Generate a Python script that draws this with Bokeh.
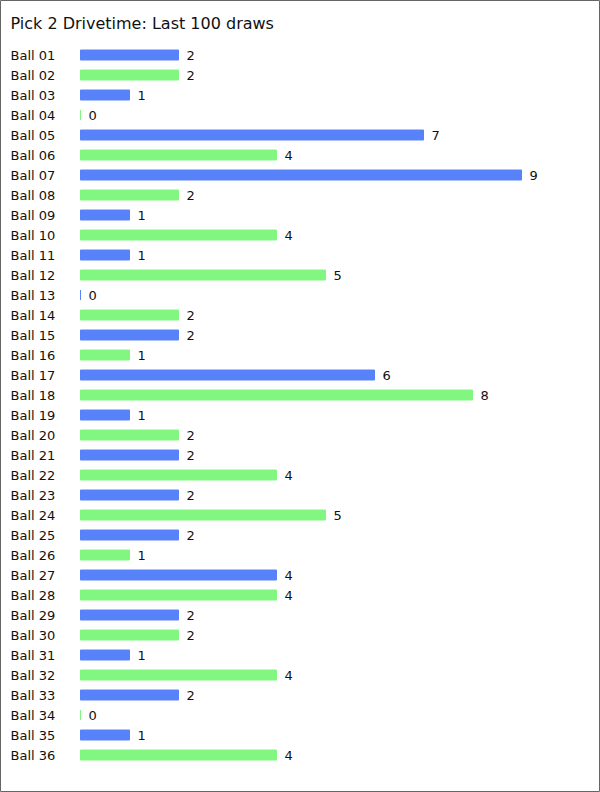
from bokeh.plotting import figure
from bokeh.models import ColumnDataSource, Range1d, Label
from bokeh.embed import file_html
from bokeh.resources import INLINE
from bokeh.core.properties import value

title_text = "Pick 2 Drivetime: Last 100 draws"
balls = ["Ball %02d" % i for i in range(1, 37)]
counts = [2, 2, 1, 0, 7, 4, 9, 2, 1, 4, 1, 5, 0, 2, 2, 1, 6, 8,
          1, 2, 2, 4, 2, 5, 2, 1, 4, 4, 2, 2, 1, 4, 2, 0, 1, 4]
palette = ["#5882FA", "#81F781"]

W, H = 600, 792
unit = 49.0      # px per count
x0 = 80.0        # px of zero
row = 20.0       # px per row
y0 = 54.5        # px of first row centre

idx = list(range(len(balls)))
src = ColumnDataSource(dict(
    y=idx,
    ball=balls,
    count=counts,
    label=[str(c) for c in counts],
    color=[palette[i % 2] for i in idx],
    lx=[-70.0 / unit] * len(idx),
))

p = figure(width=W, height=H, output_backend="svg", toolbar_location=None,
           x_range=Range1d(-x0 / unit, (W - x0) / unit),
           y_range=Range1d(-y0 / row + H / row, -y0 / row),
           min_border=0, min_border_left=0, min_border_right=0,
           min_border_top=0, min_border_bottom=0)
p.axis.visible = False
p.grid.visible = False
p.outline_line_color = "#666666"
p.outline_line_width = 1
p.background_fill_color = "white"
p.border_fill_color = "white"

p.hbar(y="y", left=0, right="count", height=0.5, source=src,
       fill_color="color", line_color="color", line_width=1)

p.text(x="count", y="y", text="label", source=src, x_offset=8,
       text_baseline="middle", text_align="left",
       text_font=value("DejaVu Sans"), text_font_size="13px", text_color="#111111")

p.text(x="lx", y="y", text="ball", source=src,
       text_baseline="middle", text_align="left",
       text_font=value("DejaVu Sans"), text_font_size="13px", text_color="#111111")

p.add_layout(Label(x=10, y=H - 23, x_units="screen", y_units="screen",
                   text=title_text, text_font="DejaVu Sans", text_font_size="16px",
                   text_baseline="middle", text_color="#111111"))

open("out.html", "w").write(file_html(p, INLINE))
